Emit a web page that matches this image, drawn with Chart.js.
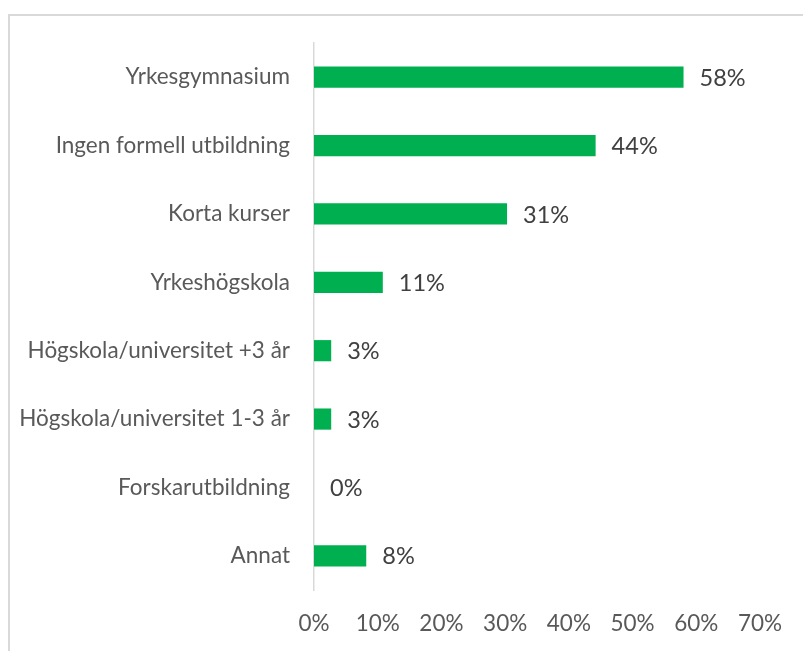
<!DOCTYPE html>
<html>
<head>
<meta charset="utf-8">
<script src="https://cdn.jsdelivr.net/npm/chart.js@4"></script>
<style>
  html, body { margin: 0; padding: 0; background: #fff; overflow: hidden; }
  #wrap { position: relative; width: 803px; height: 651px; }
  #frame { position: absolute; left: 8px; top: 14px; width: 900px; height: 800px; border: 2px solid #d9d9d9; box-sizing: border-box; }
  #chart { position: absolute; left: 0; top: 0; }
</style>
</head>
<body>
<div id="wrap">
  <div id="frame"></div>
  <canvas id="chart" width="803" height="651"></canvas>
</div>
<script>
// kategorier och värden
const categories = [
    'Yrkesgymnasium',
    'Ingen formell utbildning',
    'Korta kurser',
    'Yrkeshögskola',
    'Högskola/universitet +3 år',
    'Högskola/universitet 1-3 år',
    'Forskarutbildning',
    'Annat'
];
const values = [58, 44.2, 30.3, 10.8, 2.7, 2.7, 0, 8.2];
const valueLabels = ['58%', '44%', '31%', '11%', '3%', '3%', '0%', '8%'];
const xTicks = [0, 10, 20, 30, 40, 50, 60, 70];

const FONT = 'Lato, "Open Sans", sans-serif';

// etiketter till höger om staplarna
const valueLabelPlugin = {
    id: 'valueLabels',
    afterDatasetsDraw(chart) {
        const ctx = chart.ctx;
        const meta = chart.getDatasetMeta(0);
        ctx.save();
        ctx.font = '23.5px ' + FONT;
        ctx.fillStyle = '#404040';
        ctx.textAlign = 'left';
        ctx.textBaseline = 'middle';
        meta.data.forEach((bar, i) => {
            ctx.fillText(valueLabels[i], bar.x + 16, bar.y + 1);
        });
        ctx.restore();
    }
};

new Chart(document.getElementById('chart'), {
    type: 'bar',
    data: {
        labels: categories,
        datasets: [{
            data: values,
            backgroundColor: '#00b050',
            borderWidth: 0,
            categoryPercentage: 1,
            barPercentage: 0.31
        }]
    },
    options: {
        indexAxis: 'y',
        responsive: false,
        animation: false,
        events: [],
        layout: { padding: { top: 43, right: 43, left: 0, bottom: 0 } },
        plugins: { legend: { display: false }, tooltip: { enabled: false } },
        scales: {
            x: {
                min: 0,
                max: 70,
                afterBuildTicks: (s) => { s.ticks = xTicks.map(v => ({ value: v })); },
                grid: { display: false, drawTicks: false },
                border: { display: false },
                ticks: {
                    padding: 20,
                    color: '#595959',
                    font: { family: FONT, size: 22.5 },
                    callback: (v) => v + '%'
                },
                afterFit: (s) => { s.height = 61; }
            },
            y: {
                grid: { display: false, drawTicks: false },
                border: { display: true, color: '#d9d9d9', width: 1.5 },
                ticks: {
                    padding: 24,
                    color: '#595959',
                    font: { family: FONT, size: 22.5 }
                },
                afterFit: (s) => { s.width = 314; }
            }
        }
    },
    plugins: [valueLabelPlugin]
});
</script>
</body>
</html>
